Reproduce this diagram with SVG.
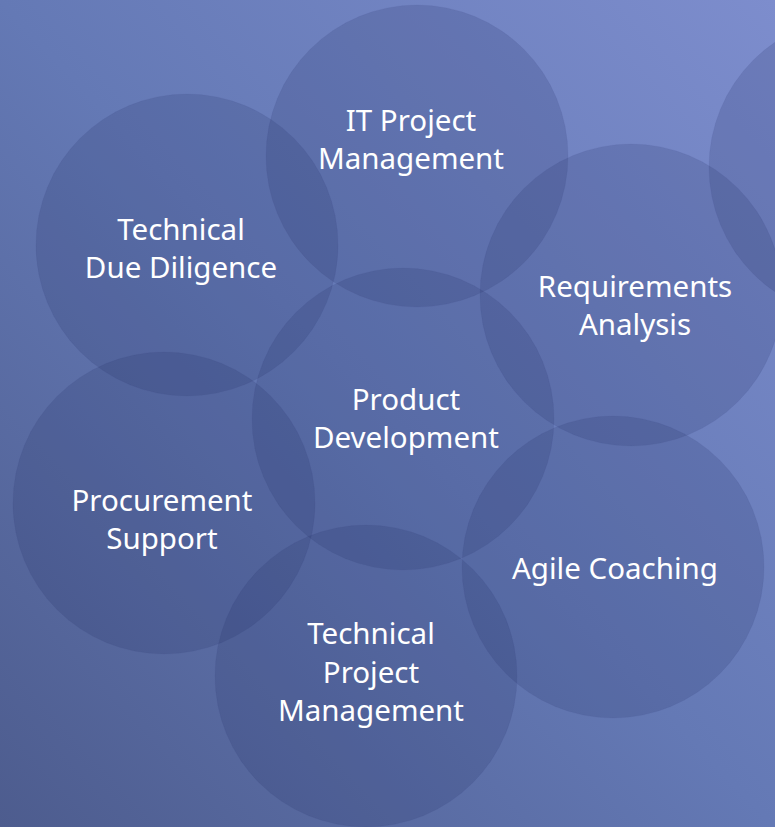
<svg xmlns="http://www.w3.org/2000/svg" width="775" height="827" viewBox="0 0 775 827">
<defs>
<linearGradient id="bg" x1="0" y1="1" x2="1" y2="0">
<stop offset="0" stop-color="#4d5c8e"/>
<stop offset="0.5" stop-color="#6479b5"/>
<stop offset="1" stop-color="#7d8dcd"/>
</linearGradient>
</defs>
<style>
.c{fill:#1e2b5c;fill-opacity:0.17;stroke:#1e2b5c;stroke-opacity:0.05;stroke-width:1}
.t{font-family:"Noto Sans","DejaVu Sans",sans-serif;font-size:29.5px;fill:#ffffff;text-anchor:middle}
</style>
<rect width="775" height="827" fill="url(#bg)"/>
<g id="connectors"/>
<g id="extra"><circle class="c" cx="860" cy="167" r="151"/></g>
<g id="it-pm"><circle class="c" cx="417" cy="156" r="151"/><text class="t" x="411" y="131">IT Project</text><text class="t" x="411" y="169">Management</text></g>
<g id="tdd"><circle class="c" cx="187" cy="245" r="151"/><text class="t" x="181" y="240">Technical</text><text class="t" x="181" y="278">Due Diligence</text></g>
<g id="req"><circle class="c" cx="631" cy="295" r="151"/><text class="t" x="635" y="297">Requirements</text><text class="t" x="635" y="335">Analysis</text></g>
<g id="pd"><circle class="c" cx="403" cy="419" r="151"/><text class="t" x="406" y="410">Product</text><text class="t" x="406" y="448">Development</text></g>
<g id="proc"><circle class="c" cx="164" cy="503" r="151"/><text class="t" x="162" y="511">Procurement</text><text class="t" x="162" y="549">Support</text></g>
<g id="agile"><circle class="c" cx="613" cy="567" r="151"/><text class="t" x="615" y="579">Agile Coaching</text></g>
<g id="tpm"><circle class="c" cx="366" cy="676" r="151"/><text class="t" x="371" y="644">Technical</text><text class="t" x="371" y="683">Project</text><text class="t" x="371" y="721">Management</text></g>
</svg>
